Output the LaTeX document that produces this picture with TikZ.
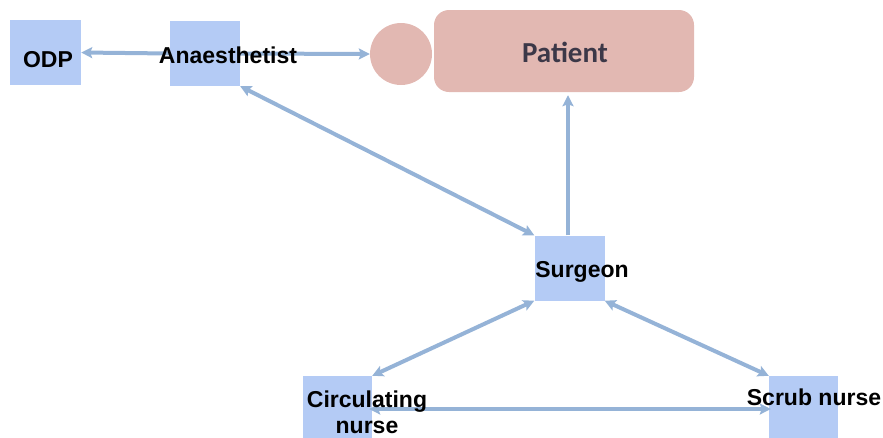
\documentclass[tikz,border=0pt]{standalone}
\usepackage{fontspec}
\setmainfont{Liberation Sans}
\newfontfamily\patientfont{Carlito}
\usetikzlibrary{arrows.meta}

\definecolor{rolefill}{RGB}{180,203,245}
\definecolor{linkblue}{RGB}{149,179,215}
\definecolor{patientfill}{RGB}{226,184,178}
\definecolor{patienttext}{RGB}{60,56,72}

\tikzset{
  rolebox/.style={draw=none, fill=rolefill, inner sep=0pt},
  rolelabel/.style={font=\fontsize{23}{26}\selectfont\bfseries, text=black, inner sep=0pt, align=center},
  link/.style={draw=linkblue, line width=4pt,
    {Stealth[length=11pt,width=11pt,inset=2pt]}-{Stealth[length=11pt,width=11pt,inset=2pt]}},
  tolink/.style={draw=linkblue, line width=4pt,
    -{Stealth[length=11pt,width=11pt,inset=2pt]}},
}

\begin{document}
\begin{tikzpicture}[x=1pt,y=-1pt]
  \useasboundingbox (0,0) rectangle (883,437);

  % role boxes
  \node[rolebox, minimum width=71pt, minimum height=65pt] (odp)   at (45.5,52.5) {};
  \node[rolebox, minimum width=70pt, minimum height=65pt] (ana)   at (205,53.5) {};
  \node[rolebox, minimum width=70pt, minimum height=65pt] (surg)  at (569.5,268) {};
  \node[rolebox, minimum width=69pt, minimum height=66pt] (circ)  at (337.5,409) {};
  \node[rolebox, minimum width=69pt, minimum height=66pt] (scrub) at (803.5,409) {};

  % patient: head and body
  \node[circle, fill=patientfill, minimum size=62pt, inner sep=0pt] (head) at (401,54) {};
  \node[rectangle, rounded corners=15pt, fill=patientfill, minimum width=260pt,
        minimum height=82pt, inner sep=0pt] (patient) at (564,51) {};

  % communication links
  \draw[tolink] (ana.west) -- (odp.east);
  \draw[tolink] (ana.east) -- (head.west);
  \draw[link] (ana.south east) -- (surg.north west);
  \draw[tolink, shorten >=3pt] (surg.north -| 568,0) -- (patient.south -| 568,0);
  \draw[link] (surg.south west) -- (circ.north east);
  \draw[link] (surg.south east) -- (scrub.north west);
  \draw[link, shorten <=-3pt, shorten >=-2pt] (circ.east) -- (scrub.west);

  % labels
  \node[rolelabel, anchor=base] (odpt)   at (48,67)  {ODP};
  \node[rolelabel, anchor=base] (anat)   at (228,63) {Anaesthetist};
  \node[rolelabel, anchor=base] (surgt)  at (582,277) {Surgeon};
  \node[rolelabel, anchor=base] (circt)  at (367,433) {Circulating\\nurse};
  \node[rolelabel, anchor=base] (scrubt) at (814,405) {Scrub nurse};
  \node[font=\patientfont\fontsize{29}{32}\selectfont\bfseries, text=patienttext,
        inner sep=0pt, anchor=base] (patientt) at (565,62) {Patient};
\end{tikzpicture}
\end{document}
